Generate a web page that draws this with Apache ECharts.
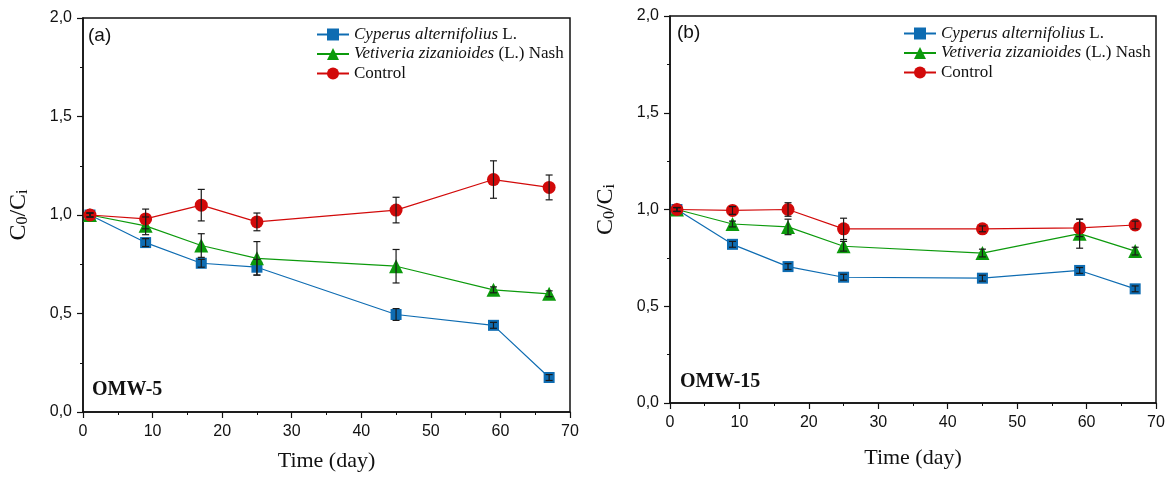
<!DOCTYPE html>
<html>
<head>
<meta charset="utf-8">
<script src="https://cdn.jsdelivr.net/npm/echarts@6/dist/echarts.min.js"></script>
<style>
  html, body { margin: 0; padding: 0; background: #fff; }
  #charts { width: 1172px; height: 478px; }
</style>
</head>
<body>
<div id="charts"></div>
<script>
// sampling days (same for both panels)
var days = [1, 9, 17, 25, 45, 59, 67];

// (a) OMW-5
var cyperusA = [1.00, 0.86, 0.755, 0.735, 0.495, 0.44, 0.175];
var vetiverA = [1.00, 0.945, 0.845, 0.78, 0.74, 0.62, 0.60];
var controlA = [1.00, 0.98, 1.05, 0.965, 1.025, 1.18, 1.14];
var cyperusErrA = [0.01, 0.02, 0.02, 0.04, 0.03, 0.015, 0.015];
var vetiverErrA = [0.01, 0.045, 0.06, 0.085, 0.085, 0.015, 0.015];
var controlErrA = [0.01, 0.05, 0.08, 0.045, 0.065, 0.095, 0.063];

// (b) OMW-15
var cyperusB = [1.00, 0.82, 0.705, 0.65, 0.645, 0.685, 0.59];
var vetiverB = [1.00, 0.925, 0.91, 0.81, 0.775, 0.875, 0.785];
var controlB = [1.00, 0.995, 1.00, 0.90, 0.90, 0.905, 0.92];
var cyperusErrB = [0.01, 0.015, 0.015, 0.015, 0.015, 0.015, 0.015];
var vetiverErrB = [0.01, 0.015, 0.04, 0.025, 0.02, 0.075, 0.02];
var controlErrB = [0.01, 0.02, 0.035, 0.055, 0.015, 0.045, 0.02];

var names = ['Cyperus alternifolius L.', 'Vetiveria zizanioides (L.) Nash', 'Control'];
var colors = ['#0e6cb2', '#0c9a0c', '#d20a0a'];

function pts(ys) {
    return days.map(function (d, i) { return [d, ys[i]]; });
}
function errs(ys, es) {
    return days.map(function (d, i) { return [d, ys[i] - es[i], ys[i] + es[i]]; });
}

function renderErr(params, api) {
    var x = api.value(0);
    var lo = api.coord([x, api.value(1)]);
    var hi = api.coord([x, api.value(2)]);
    var w = 3.5;
    var st = { stroke: '#1a1a1a', lineWidth: 1.2 };
    return {
        type: 'group',
        children: [
            { type: 'line', shape: { x1: hi[0], y1: hi[1], x2: lo[0], y2: lo[1] }, style: st },
            { type: 'line', shape: { x1: hi[0] - w, y1: hi[1], x2: hi[0] + w, y2: hi[1] }, style: st },
            { type: 'line', shape: { x1: lo[0] - w, y1: lo[1], x2: lo[0] + w, y2: lo[1] }, style: st }
        ]
    };
}

var serif = '"Liberation Serif", "Times New Roman", serif';
var sans = '"Liberation Sans", Arial, sans-serif';

function xAx(idx, gap) {
    return {
        type: 'value', gridIndex: idx, min: 0, max: 70, interval: 10,
        name: 'Time (day)', nameLocation: 'middle', nameGap: gap,
        nameTextStyle: { fontFamily: serif, fontSize: 22, color: '#111' },
        axisLine: { onZero: false, lineStyle: { color: '#111', width: 1.5 } },
        axisTick: { inside: false, length: 6, lineStyle: { color: '#111', width: 1.2 } },
        minorTick: { show: true, splitNumber: 2, length: 3, lineStyle: { color: '#111', width: 1 } },
        axisLabel: { fontFamily: sans, fontSize: 16, color: '#111', margin: 12 },
        splitLine: { show: false }
    };
}
function yAx(idx, gap) {
    return {
        type: 'value', gridIndex: idx, min: 0, max: 2, interval: 0.5,
        name: '{c|C}{s|0}{c|/C}{s|i}', nameLocation: 'middle', nameGap: gap, nameRotate: 90,
        nameTextStyle: {
            rich: {
                c: { fontFamily: serif, fontSize: 24, color: '#111' },
                s: { fontFamily: serif, fontSize: 16, color: '#111', verticalAlign: 'bottom', padding: [9, 0, 0, 0] }
            }
        },
        axisLine: { onZero: false, lineStyle: { color: '#111', width: 1.5 } },
        axisTick: { inside: false, length: 6, lineStyle: { color: '#111', width: 1.2 } },
        minorTick: { show: true, splitNumber: 2, length: 3, lineStyle: { color: '#111', width: 1 } },
        axisLabel: {
            fontFamily: sans, fontSize: 16, color: '#111', margin: 11,
            formatter: function (v) { return v.toFixed(1).replace('.', ','); }
        },
        splitLine: { show: false }
    };
}

function legendFor(left, top) {
    return {
        data: names, left: left, top: top, orient: 'vertical',
        itemWidth: 32, itemHeight: 15, itemGap: 2.5,
        selectedMode: false,
        textStyle: {
            fontFamily: serif, fontSize: 17, color: '#111',
            rich: {
                i: { fontFamily: serif, fontSize: 17, fontStyle: 'italic', color: '#111' },
                n: { fontFamily: serif, fontSize: 17, color: '#111' }
            }
        },
        formatter: function (n) {
            if (n === names[0]) return '{i|Cyperus alternifolius} {n|L.}';
            if (n === names[1]) return '{i|Vetiveria zizanioides} {n|(L.) Nash}';
            return '{n|Control}';
        }
    };
}

var symbols = ['rect', 'triangle', 'circle'];
var sizes = [11, 14, 13];

function lineSeries(idx, data) {
    return data.map(function (ys, k) {
        return {
            name: names[k], type: 'line', xAxisIndex: idx, yAxisIndex: idx,
            data: pts(ys), symbol: symbols[k], symbolSize: sizes[k],
            itemStyle: { color: colors[k] },
            lineStyle: { color: colors[k], width: 1.2 },
            z: 3, animation: false
        };
    });
}
function errSeries(idx, data, es) {
    return data.map(function (ys, k) {
        return {
            type: 'custom', xAxisIndex: idx, yAxisIndex: idx,
            renderItem: renderErr, data: errs(ys, es[k]),
            encode: { x: 0, y: [1, 2] }, z: 4, silent: true, animation: false
        };
    });
}

var myChart = echarts.init(document.getElementById('charts'));

var option = {
    animation: false,
    grid: [
        { left: 83, top: 18, width: 487, height: 394, show: true, borderColor: '#111', borderWidth: 1.5, backgroundColor: 'transparent' },
        { left: 670, top: 16, width: 486, height: 387, show: true, borderColor: '#111', borderWidth: 1.5, backgroundColor: 'transparent' }
    ],
    xAxis: [xAx(0, 38), xAx(1, 44)],
    yAxis: [yAx(0, 52), yAx(1, 52)],
    legend: [legendFor(311, 21), legendFor(898, 20)],
    graphic: [
        { type: 'text', left: 88, top: 26, style: { text: '(a)', font: '19px ' + sans, fill: '#111' } },
        { type: 'text', left: 92, top: 380, style: { text: 'OMW-5', font: 'bold 20px ' + serif, fill: '#111' } },
        { type: 'text', left: 677, top: 23, style: { text: '(b)', font: '19px ' + sans, fill: '#111' } },
        { type: 'text', left: 680, top: 372, style: { text: 'OMW-15', font: 'bold 20px ' + serif, fill: '#111' } }
    ],
    series: [].concat(
        lineSeries(0, [cyperusA, vetiverA, controlA]),
        errSeries(0, [cyperusA, vetiverA, controlA], [cyperusErrA, vetiverErrA, controlErrA]),
        lineSeries(1, [cyperusB, vetiverB, controlB]),
        errSeries(1, [cyperusB, vetiverB, controlB], [cyperusErrB, vetiverErrB, controlErrB])
    )
};

myChart.setOption(option);
</script>
</body>
</html>
